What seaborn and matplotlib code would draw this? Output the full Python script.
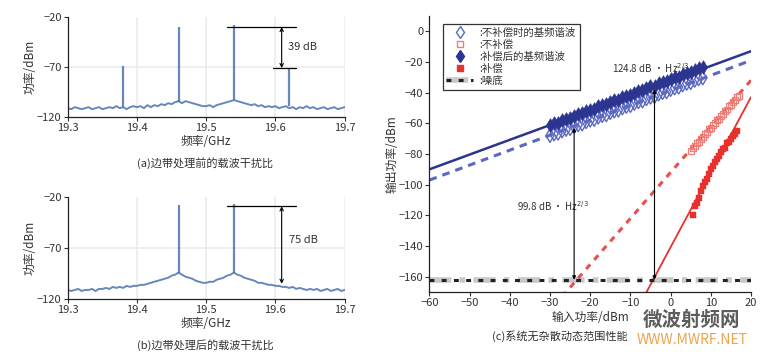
import numpy as np
import pandas as pd
import matplotlib
matplotlib.use("Agg")
import matplotlib.pyplot as plt
from matplotlib.lines import Line2D
from matplotlib.legend_handler import HandlerTuple
import seaborn as sns

sns.set_style("white")
plt.rcParams['font.family'] = ['Noto Sans CJK SC', 'DejaVu Sans']
plt.rcParams['axes.unicode_minus'] = True

# ---------------- data: spectra (a), (b) ----------------
freq_start, freq_stop, freq_n = 19.3, 19.7, 81
spec_a = [-111, -112, -110, -111, -112, -111, -110, -112, -111, -110,
          -112, -111, -110, -111, -109, -111, -110, -112, -110, -109,
          -110, -109, -111, -108, -110, -108, -109, -107, -108, -106,
          -107, -105, -104, -106, -104, -105, -106, -107, -108, -109,
          -109, -108, -110, -108, -107, -106, -105, -104, -103, -104,
          -105, -106, -107, -108, -107, -109, -108, -110, -109, -110,
          -109, -111, -110, -109, -111, -110, -112, -110, -111, -109,
          -111, -110, -112, -111, -110, -112, -111, -110, -112, -111, -110]
peaks_a_f = [19.38, 19.46, 19.54, 19.62]
peaks_a_lvl = [-69, -30, -28, -71]
peaks_a_base = [-110, -105, -103, -109]

spec_b = [-111, -112, -111, -110, -112, -111, -111, -110, -112, -110,
          -110, -109, -110, -108, -109, -108, -109, -107, -108, -107,
          -107, -106, -106, -105, -104, -103, -102, -101, -100, -99,
          -97, -96, -94, -96, -98, -99, -100, -102, -103, -104,
          -104, -103, -103, -101, -100, -99, -97, -96, -94, -96,
          -97, -99, -100, -101, -102, -104, -104, -105, -106, -106,
          -107, -107, -108, -108, -109, -108, -110, -109, -110, -111,
          -110, -111, -110, -112, -111, -110, -112, -111, -110, -112, -111]
peaks_b_f = [19.46, 19.54]
peaks_b_lvl = [-28, -27]
peaks_b_base = [-94, -94]

spec_xticks = [19.3, 19.4, 19.5, 19.6, 19.7]
spec_yticks = [-20, -70, -120]

# ---------------- data: SFDR (c) ----------------
line_x = [-60, 20]
fund_comp_line = [-90, -13]
fund_uncomp_line = [-97, -19]
imd_uncomp_line_x = [-27, 20]
imd_uncomp_line = [-173, -32]
imd_comp_line_x = [-7, 20]
imd_comp_line = [-175, -43]
floor_x = [-60, 20]
floor_y = [-162, -162]

fund_in = [-30, -29, -28, -27, -26, -25, -24, -23, -22, -21, -20, -19, -18,
           -17, -16, -15, -14, -13, -12, -11, -10, -9, -8, -7, -6, -5, -4,
           -3, -2, -1, 0, 1, 2, 3, 4, 5, 6, 7, 8]
fund_uncomp = [-68, -67, -66.5, -65, -64, -63.5, -62, -61, -60.5, -59, -58,
               -57.5, -56, -55, -54.5, -53, -52, -51.5, -50, -49, -48.5, -47,
               -46, -45.5, -44, -43, -42.5, -41, -40, -39.5, -38, -37, -36.5,
               -35, -34, -33.5, -32, -31, -30.5]
fund_comp = [-61, -60, -59.5, -58, -57, -56.5, -55, -54, -53.5, -52, -51,
             -50.5, -49, -48, -47.5, -46, -45, -44.5, -43, -42, -41.5, -40,
             -39, -38.5, -37, -36, -35.5, -34, -33, -32.5, -31, -30, -29.5,
             -28, -27, -26.5, -25, -24, -23.5]

imd_uncomp_in = [5, 5.5, 6, 6.5, 7, 7.5, 8, 8.5, 9, 9.5, 10, 10.5, 11, 11.5,
                 12, 12.5, 13, 13.5, 14, 14.5, 15, 15.5, 16, 16.5, 17]
imd_uncomp = [-78, -76, -75, -73, -72, -70, -69, -67, -66, -64, -63, -61, -60,
              -58, -57, -55, -54, -52, -51, -49, -48, -46, -45, -43, -42]
imd_comp_in = [5.5, 6, 6.5, 7, 7.5, 8, 8.5, 9, 9.5, 10, 10.5, 11, 11.5, 12,
               12.5, 13, 13.5, 14, 14.5, 15, 15.5, 16, 16.5]
imd_comp = [-120, -114, -112, -109, -104, -101, -98, -96, -93, -90, -88, -85,
            -83, -81, -79, -77, -76, -73, -72, -70, -68, -67, -65]

arrow_x = [-24, -4]
arrow_top = [-63, -38]
sfdr_labels = ["99.8 dB · Hz$^{2/3}$", "124.8 dB · Hz$^{2/3}$"]
legend_labels = [":不补偿时的基频谐波", ":不补偿", ":补偿后的基频谐波", ":补偿", ":噪底"]

# ---------------- colours ----------------
C_SPEC = "#4d72b0"
C_NAVY = "#2b3590"
C_BLUE_LIGHT = "#5a68c0"
C_RED = "#e8302c"
C_TEXT = "#333333"

fig = plt.figure(figsize=(7.71, 3.54), dpi=100)
fig.patch.set_facecolor("white")

freq = np.linspace(freq_start, freq_stop, freq_n)


def spectrum_axes(rect, spec, pf, plvl, pbase):
    ax = fig.add_axes(rect)
    for xv in spec_xticks[1:]:
        ax.axvline(xv, color="#ececec", lw=1.2, zorder=0)
    ax.axhline(-70, color="#ececec", lw=1.2, zorder=0)
    df = pd.DataFrame({"f": freq, "p": spec})
    sns.lineplot(data=df, x="f", y="p", ax=ax, color=C_SPEC, lw=1.4, alpha=0.85)
    ax.vlines(pf, pbase, plvl, color=C_SPEC, lw=1.6, alpha=0.85)
    ax.set_xlim(19.3, 19.7)
    ax.set_ylim(-120, -20)
    ax.set_xticks(spec_xticks)
    ax.set_xticklabels([f"{v:.1f}" for v in spec_xticks])
    ax.set_yticks(spec_yticks)
    ax.tick_params(axis="both", labelsize=8, colors=C_TEXT, length=3, width=0.8,
                   direction="out", pad=1.5, bottom=True, left=True)
    for s in ["top", "right"]:
        ax.spines[s].set_visible(False)
    for s in ["left", "bottom"]:
        ax.spines[s].set_color("#222222")
        ax.spines[s].set_linewidth(0.9)
    ax.set_xlabel("频率/GHz", fontsize=8.5, color=C_TEXT, labelpad=1)
    ax.set_ylabel("功率/dBm", fontsize=8.5, color=C_TEXT, labelpad=0)
    return ax


# (a)
ax_a = spectrum_axes([0.088, 0.669, 0.359, 0.283], spec_a, peaks_a_f, peaks_a_lvl, peaks_a_base)
ax_a.plot([19.53, 19.63], [-30, -30], color="black", lw=0.9)
ax_a.plot([19.597, 19.63], [-71, -71], color="black", lw=0.9)
ax_a.annotate("", xy=(19.609, -30), xytext=(19.609, -71),
              arrowprops=dict(arrowstyle="<->", color="black", lw=0.8,
                              shrinkA=0, shrinkB=0, mutation_scale=6))
ax_a.text(19.618, -50, "39 dB", fontsize=8, color=C_TEXT, va="center", ha="left")
fig.text(0.266, 0.538, "(a)边带处理前的载波干扰比", fontsize=8, color=C_TEXT, ha="center", va="center")

# (b)
ax_b = spectrum_axes([0.088, 0.155, 0.359, 0.288], spec_b, peaks_b_f, peaks_b_lvl, peaks_b_base)
ax_b.plot([19.53, 19.63], [-29, -29], color="black", lw=0.9)
ax_b.annotate("", xy=(19.609, -29), xytext=(19.609, -105),
              arrowprops=dict(arrowstyle="<->", color="black", lw=0.8,
                              shrinkA=0, shrinkB=0, mutation_scale=6))
ax_b.text(19.62, -62, "75 dB", fontsize=8, color=C_TEXT, va="center", ha="left")
fig.text(0.266, 0.025, "(b)边带处理后的载波干扰比", fontsize=8, color=C_TEXT, ha="center", va="center")

# (c)
ax_c = fig.add_axes([0.557, 0.175, 0.417, 0.78])
ax_c.set_xlim(-60, 20)
ax_c.set_ylim(-170, 10)

# noise floor
ax_c.plot(floor_x, floor_y, color="#c8c8c8", lw=4, ls=(0, (4, 1.5, 1, 1.5)), zorder=2)
ax_c.plot(floor_x, floor_y, color="#222222", lw=2.2, ls=(0, (1.6, 2.4)), zorder=3)

lines_df = pd.DataFrame({"x": line_x, "comp": fund_comp_line, "uncomp": fund_uncomp_line})
sns.lineplot(data=lines_df, x="x", y="comp", ax=ax_c, color=C_NAVY, lw=1.8)
sns.lineplot(data=lines_df, x="x", y="uncomp", ax=ax_c, color=C_BLUE_LIGHT, lw=2.2, ls=(0, (2.5, 2.0)))
sns.lineplot(x=imd_uncomp_line_x, y=imd_uncomp_line, ax=ax_c, color=C_RED, lw=2.2,
             ls=(0, (2.0, 2.0)), alpha=0.85)
sns.lineplot(x=imd_comp_line_x, y=imd_comp_line, ax=ax_c, color=C_RED, lw=1.3)

sns.scatterplot(x=fund_in, y=fund_uncomp, ax=ax_c, marker="d", s=48,
                facecolor="none", edgecolor=C_BLUE_LIGHT, linewidth=1.0, zorder=4)
sns.scatterplot(x=fund_in, y=fund_comp, ax=ax_c, marker="d", s=48,
                color=C_NAVY, edgecolor=C_NAVY, linewidth=0.5, zorder=5)
sns.scatterplot(x=imd_uncomp_in, y=imd_uncomp, ax=ax_c, marker="s", s=18,
                facecolor="none", edgecolor="#ef7d78", linewidth=0.9, zorder=4)
sns.scatterplot(x=imd_comp_in, y=imd_comp, ax=ax_c, marker="s", s=22,
                color=C_RED, edgecolor=C_RED, linewidth=0.3, zorder=5)

for xv, yt in zip(arrow_x, arrow_top):
    ax_c.annotate("", xy=(xv, yt), xytext=(xv, -162),
                  arrowprops=dict(arrowstyle="<|-|>", color="black", lw=0.8,
                                  shrinkA=0, shrinkB=0, mutation_scale=5), zorder=6)
ax_c.text(-38.3, -114, sfdr_labels[0], fontsize=7, color=C_TEXT, ha="left", va="center")
ax_c.text(-14.5, -24, sfdr_labels[1], fontsize=7, color=C_TEXT, ha="left", va="center")

ax_c.set_xticks(np.arange(-60, 21, 10))
ax_c.set_yticks(np.arange(-160, 1, 20))
ax_c.tick_params(axis="both", labelsize=8, colors=C_TEXT, length=3, width=0.8,
                 direction="out", pad=1.5, bottom=True, left=True)
for s in ["top", "right"]:
    ax_c.spines[s].set_visible(False)
for s in ["left", "bottom"]:
    ax_c.spines[s].set_color("#222222")
    ax_c.spines[s].set_linewidth(0.9)
ax_c.set_xlabel("输入功率/dBm", fontsize=8.5, color=C_TEXT, labelpad=2)
ax_c.set_ylabel("输出功率/dBm", fontsize=8.5, color=C_TEXT, labelpad=0)

handles = [
    Line2D([], [], ls="none", marker="d", markersize=6, markerfacecolor="none",
           markeredgecolor=C_BLUE_LIGHT, markeredgewidth=1.0),
    Line2D([], [], ls="none", marker="s", markersize=4.5, markerfacecolor="none",
           markeredgecolor="#ef7d78", markeredgewidth=1.0),
    Line2D([], [], ls="none", marker="d", markersize=6, markerfacecolor=C_NAVY,
           markeredgecolor=C_NAVY),
    Line2D([], [], ls="none", marker="s", markersize=4.5, markerfacecolor=C_RED,
           markeredgecolor=C_RED),
    (Line2D([], [], color="#c8c8c8", lw=4, ls=(0, (4, 1.5, 1, 1.5))),
     Line2D([], [], color="#222222", lw=2.2, ls=(0, (1.6, 2.4)))),
]
leg = ax_c.legend(handles, legend_labels, loc="upper left", bbox_to_anchor=(0.025, 0.99),
                  fontsize=7.5, frameon=True, fancybox=False, handlelength=2.6,
                  handletextpad=0.6, labelspacing=0.2, borderpad=0.35,
                  handler_map={tuple: HandlerTuple(ndivide=1)})
leg.get_frame().set_edgecolor("black")
leg.get_frame().set_linewidth(0.9)
for t in leg.get_texts():
    t.set_color(C_TEXT)

fig.text(0.726, 0.05, "(c)系统无杂散动态范围性能", fontsize=8, color=C_TEXT, ha="center", va="center")

# watermark
fig.text(0.897, 0.095, "微波射频网", fontsize=14, fontweight="bold", color="#4a4a4a",
         ha="center", va="center", alpha=0.9)
fig.text(0.897, 0.040, "WWW.MWRF.NET", fontsize=10, color="#e89a3c",
         ha="center", va="center", alpha=0.9)

fig.savefig("out.png", dpi=100, facecolor="white")
